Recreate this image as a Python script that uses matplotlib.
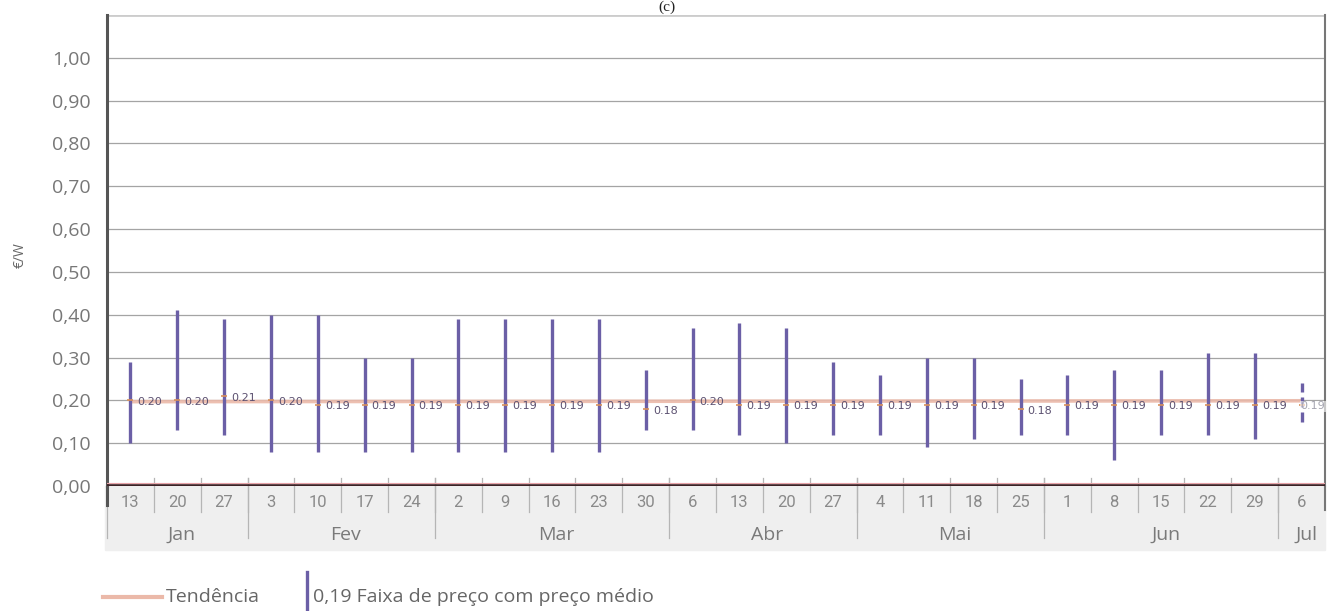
import numpy as np
import matplotlib.pyplot as plt
from matplotlib.lines import Line2D

# Semanas (eixo x)
weeks = ['13', '20', '27', '3', '10', '17', '24', '2', '9', '16', '23', '30', '6',
         '13', '20', '27', '4', '11', '18', '25', '1', '8', '15', '22', '29', '6']
months = ['Jan', 'Fev', 'Mar', 'Abr', 'Mai', 'Jun', 'Jul']
weeks_per_month = [3, 4, 5, 4, 4, 5, 1]

# Faixa de preço (mín / máx) e preço médio, €/W
price_min = [0.10, 0.13, 0.12, 0.08, 0.08, 0.08, 0.08, 0.08, 0.08, 0.08, 0.08, 0.13, 0.13,
             0.12, 0.10, 0.12, 0.12, 0.09, 0.11, 0.12, 0.12, 0.06, 0.12, 0.12, 0.11, 0.15]
price_max = [0.29, 0.41, 0.39, 0.40, 0.40, 0.30, 0.30, 0.39, 0.39, 0.39, 0.39, 0.27, 0.37,
             0.38, 0.37, 0.29, 0.26, 0.30, 0.30, 0.25, 0.26, 0.27, 0.27, 0.31, 0.31, 0.24]
price_avg = [0.20, 0.20, 0.21, 0.20, 0.19, 0.19, 0.19, 0.19, 0.19, 0.19, 0.19, 0.18, 0.20,
             0.19, 0.19, 0.19, 0.19, 0.19, 0.19, 0.18, 0.19, 0.19, 0.19, 0.19, 0.19, 0.19]

# Tendência (início / fim)
trend_x = [0, 25]
trend_y = [0.197, 0.199]

W, H = 1334, 611
fig = plt.figure(figsize=(W / 100, H / 100), dpi=100)
ax = fig.add_axes([107 / W, 1 - 486 / H, (1325 - 107) / W, 471 / H])

n = len(weeks)
x = np.arange(n)
ax.set_xlim(-0.5, n - 0.5)
ax.set_ylim(0, 1.1)

# grade
for v in np.arange(0.1, 1.01, 0.1):
    ax.axhline(v, color='#a4a4a4', lw=0.9, zorder=1)
ax.axhline(1.1, color='#cccccc', lw=2, zorder=1)

for s in ['top', 'bottom']:
    ax.spines[s].set_visible(False)
ax.spines['left'].set_color('#555555')
ax.spines['left'].set_linewidth(2.2)
ax.spines['right'].set_color('#777777')
ax.spines['right'].set_linewidth(1.5)

# tendência
ax.plot(trend_x, trend_y, color='#ebb9a9', lw=2.6, alpha=0.9, zorder=2, solid_capstyle='butt')

# faixas de preço
bar_col = '#6b5fa6'
for i in range(n):
    ls = (0, (3, 1.5)) if i == n - 1 else '-'
    ax.plot([x[i], x[i]], [price_min[i], price_max[i]], color=bar_col, lw=2.4,
            ls=ls, zorder=3, solid_capstyle='butt')
    ax.plot(x[i], price_avg[i], marker='_', ms=5, mew=1.2, color='#d9905a', zorder=4)
    if i == n - 1:
        ax.text(x[i] - 0.02, price_avg[i] - 0.004, f'{price_avg[i]:.2f}', fontsize=8,
                color='#a5a5b0', ha='left', va='center', zorder=5,
                bbox=dict(facecolor='white', edgecolor='none', pad=0.2, alpha=0.6))
    else:
        ax.text(x[i] + 0.15, price_avg[i] - 0.004, f'{price_avg[i]:.2f}', fontsize=8,
                color='#5b5070', ha='left', va='center', zorder=5)

# linha de base
ax.axhline(0.007, color='#e7a3a8', lw=0.8, zorder=4)
ax.axhline(0, color='#3d2226', lw=2.6, zorder=4)

# eixo y
ax.set_yticks(np.arange(0, 1.01, 0.1))
ax.set_yticklabels([f'{v:.2f}'.replace('.', ',') for v in np.arange(0, 1.01, 0.1)],
                   fontsize=14, color='#777777', family='Open Sans')
ax.tick_params(axis='y', length=0, pad=12)
ax.set_xticks([])
fig.text(20 / W, 1 - 255 / H, '€/W', rotation=90, fontsize=10, color='#666666',
         ha='center', va='center', family='Open Sans')

# eixo x: faixa cinza, semanas e meses
tr = ax.get_xaxis_transform()
ax.add_patch(plt.Rectangle((-0.55, -0.136), n + 0.05, 0.136, transform=tr, color='#efefef',
                           clip_on=False, zorder=0))
for i, wk in enumerate(weeks):
    ax.text(x[i], -0.036, wk, transform=tr, ha='center', va='center', fontsize=12,
            color='#8a8a8a', family=['Liberation Sans Narrow', 'Roboto'])
for i in range(1, n):
    ax.add_line(Line2D([i - 0.5, i - 0.5], [0.017, -0.055], transform=tr,
                       color='#b5b5b5', lw=0.9, clip_on=False))
start = 0
for m, k in zip(months, weeks_per_month):
    ax.add_line(Line2D([start - 0.5, start - 0.5], [0.017, -0.11], transform=tr,
                       color='#b5b5b5', lw=0.9, clip_on=False))
    ax.text(start - 0.5 + k / 2 + 0.1, -0.104, m, transform=tr, ha='center', va='center',
            fontsize=14, color='#7a7a7a', family='Open Sans')
    start += k
ax.add_line(Line2D([-0.5, -0.5], [0, -0.04], transform=tr, color='#555555', lw=2.2,
                   clip_on=False))
ax.add_line(Line2D([n - 0.5, n - 0.5], [0, -0.05], transform=tr, color='#777777', lw=1.5,
                   clip_on=False))

# título
fig.text(667 / W, 1 - 1 / H, '(c)', ha='center', va='top', fontsize=11,
         family='Liberation Serif', color='#222222')

# legenda
fig.add_artist(Line2D([103 / W, 162 / W], [1 - 597 / H] * 2, color='#ebb9a9', lw=3))
fig.text(166 / W, 1 - 597 / H, 'Tendência', fontsize=14, color='#666666',
         ha='left', va='center', family='Open Sans')
fig.add_artist(Line2D([307 / W, 307 / W], [1 - 572 / H, 1 - 609 / H], color=bar_col, lw=2.4))
fig.text(313 / W, 1 - 597 / H, '0,19 Faixa de preço com preço médio', fontsize=14,
         color='#666666', ha='left', va='center', family='Open Sans')

fig.savefig('out.png', dpi=100)
